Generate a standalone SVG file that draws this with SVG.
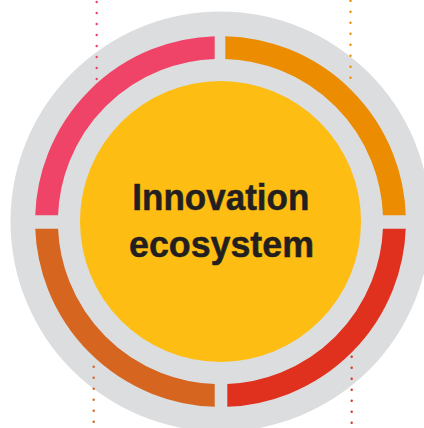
<svg xmlns="http://www.w3.org/2000/svg" width="424" height="428" viewBox="0 0 424 428">
<style>
.seg{fill:none;stroke-width:22.8}
.dots{fill:none;stroke-width:2.4;stroke-linecap:round;stroke-dasharray:0 11}
.lbl{font-family:"Liberation Sans",Arial,sans-serif;font-weight:bold;font-size:37px;fill:#231f20;stroke:#231f20;stroke-width:0.5;text-anchor:middle}
</style>
<defs>
<clipPath id="cTL"><rect x="0" y="0" width="214.7" height="215.3"/></clipPath>
<clipPath id="cTR"><rect x="225.3" y="0" width="200" height="215.3"/></clipPath>
<clipPath id="cBR"><rect x="227.3" y="228.7" width="200" height="200"/></clipPath>
<clipPath id="cBL"><rect x="0" y="228.7" width="214.7" height="200"/></clipPath>
</defs>
<rect width="424" height="428" fill="#ffffff"/>
<g id="background">
<circle cx="220.5" cy="221.5" r="210" fill="#dcdddf"/>
</g>
<g id="connectors">
<line class="dots" x1="96.7" y1="2" x2="96.7" y2="80" stroke="#f04368"/>
<line class="dots" x1="350.5" y1="0.7" x2="350.5" y2="88" stroke="#ec8c00"/>
<line class="dots" x1="93.7" y1="366.7" x2="93.7" y2="428" stroke="#d6651f"/>
<line class="dots" x1="351.7" y1="356.7" x2="351.7" y2="428" stroke="#e0311f"/>
</g>
<g id="segment-top-left">
<circle class="seg" cx="220.5" cy="221.5" r="174" stroke="#f04368" clip-path="url(#cTL)"/>
</g>
<g id="segment-top-right">
<circle class="seg" cx="220.5" cy="221.5" r="174" stroke="#ec8c00" clip-path="url(#cTR)"/>
</g>
<g id="segment-bottom-right">
<circle class="seg" cx="220.5" cy="221.5" r="174" stroke="#e0311f" clip-path="url(#cBR)"/>
</g>
<g id="segment-bottom-left">
<circle class="seg" cx="220.5" cy="221.5" r="174" stroke="#d6651f" clip-path="url(#cBL)"/>
</g>
<g id="center">
<circle cx="220.5" cy="221.5" r="140.5" fill="#fdbd12"/>
<text class="lbl" x="220.8" y="209.7" textLength="177" lengthAdjust="spacingAndGlyphs">Innovation</text>
<text class="lbl" x="221.5" y="256.7" textLength="185" lengthAdjust="spacingAndGlyphs">ecosystem</text>
</g>
</svg>
